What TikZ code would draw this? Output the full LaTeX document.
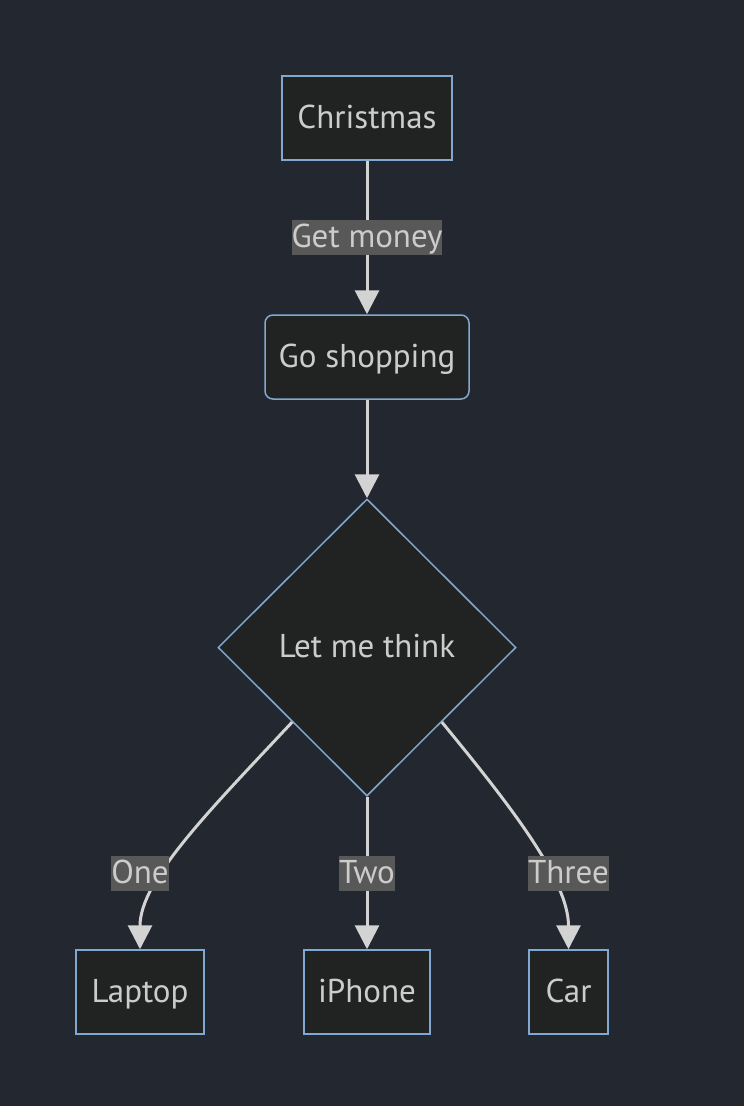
\documentclass[tikz,border=0pt]{standalone}
\usepackage{fontspec}
\setmainfont{PT Sans}
\usetikzlibrary{shapes.geometric,arrows.meta}
\definecolor{bgc}{HTML}{232730}
\definecolor{nodefill}{HTML}{212322}
\definecolor{nodeborder}{HTML}{81A8D0}
\definecolor{txt}{HTML}{CCCCCC}
\definecolor{edgec}{HTML}{D3D3D3}
\definecolor{lblbg}{HTML}{585858}
\tikzset{
  tfont/.style={font=\fontsize{33}{38}\selectfont, text height=27pt, text depth=7pt},
  box/.style={draw=nodeborder, fill=nodefill, line width=1.5pt, text=txt, inner sep=0pt, minimum height=84pt, tfont},
  rbox/.style={box, rounded corners=8pt},
  dia/.style={diamond, draw=nodeborder, fill=nodefill, line width=1.5pt, text=txt, inner sep=0pt, minimum width=298pt, minimum height=297pt, tfont},
  conn/.style={draw=edgec, line width=3pt, -{Triangle[width=24pt,length=24pt]}},
  lbl/.style={fill=lblbg, text=txt, inner xsep=0pt, inner ysep=0.5pt, tfont}
}
\begin{document}
\begin{tikzpicture}[x=1pt,y=-1pt]
\fill[bgc] (0,0) rectangle (744,1106);
\useasboundingbox (0,0) rectangle (744,1106);
\node[box, minimum width=170pt] (xmas) at (367,118) {Christmas};
\node[rbox, minimum width=204pt] (shop) at (367,357) {Go shopping};
\node[dia] (think) at (367,647.5) {Let me think};
\node[box, minimum width=128pt] (laptop) at (140,992) {Laptop};
\node[box, minimum width=126pt] (iphone) at (367,992) {iPhone};
\node[box, minimum width=79pt] (car) at (568.5,992) {Car};

\draw[conn] (xmas.south) -- (shop.north);
\draw[conn] (shop.south) -- (think.north);
\draw[conn] (think.south west) .. controls (210,810) and (140,880) .. (laptop.north);
\draw[conn] (think.south) -- (iphone.north);
\draw[conn] (think.south east) .. controls (510,805) and (568.5,880) .. (car.north);

\node[lbl] (l1) at (367,237) {Get money};
\node[lbl] (l2) at (140,873) {One};
\node[lbl] (l3) at (367,873) {Two};
\node[lbl] (l4) at (568.5,873) {Three};
\end{tikzpicture}
\end{document}
